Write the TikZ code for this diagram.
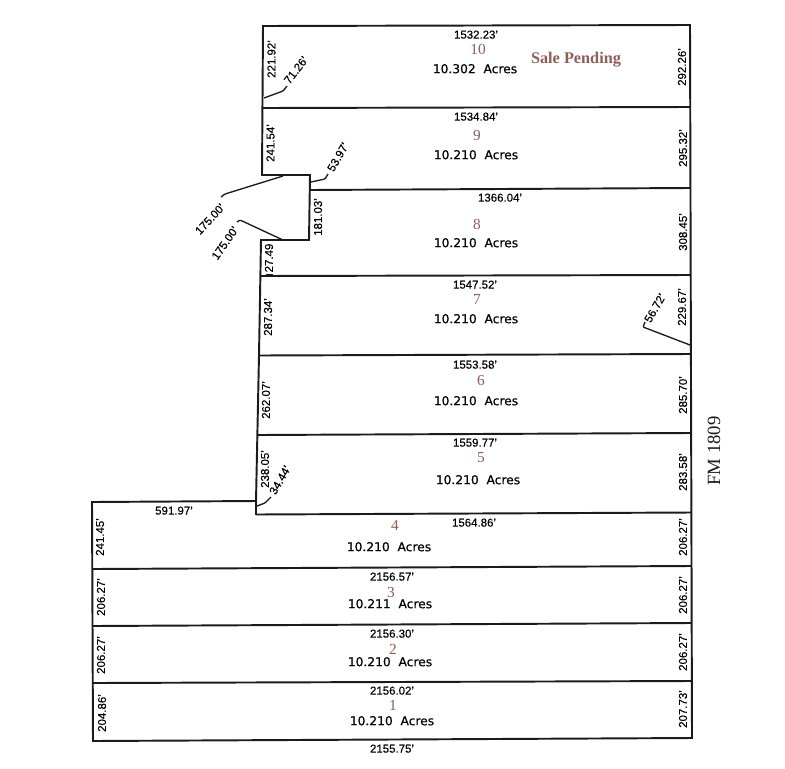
\documentclass[tikz,border=0pt]{standalone}
\usepackage{fontspec}
\setmainfont[FakeBold=0.25]{Liberation Sans}
\newfontfamily\serifbrown{Liberation Serif}
\newfontfamily\acrefont[FakeBold=0.5]{DejaVu Sans}
\definecolor{lotbrown}{HTML}{8E5F56}
\definecolor{linegray}{HTML}{1C1A1A}
\tikzset{
  lotline/.style={draw=linegray,line width=1.45pt,line join=miter},
  leader/.style={draw=linegray,line width=1pt,rounded corners=0.8pt},
  dimtext/.style={inner sep=0pt,font=\fontsize{8.6}{10}\selectfont,text=black},
  lotnum/.style={inner sep=0pt,font=\serifbrown\fontsize{11.5}{13}\selectfont,text=lotbrown},
  acres/.style={inner sep=0pt,yshift=0.2pt,font=\acrefont\fontsize{9.2}{11}\selectfont,text=black},
}
\begin{document}
\begin{tikzpicture}[x=0.75pt,y=-0.75pt]
\useasboundingbox[fill=white] (0,0) rectangle (785,768);
% outline
\draw[lotline] (263,26) -- (690,25) -- (692,738) -- (93,741) -- (92,502) -- (256,501)
  -- (259,355) -- (261,240) -- (309,240) -- (310,175) -- (262,175) -- cycle;
% lot lines
\draw[lotline] (263,108) -- (690,107);
\draw[lotline] (310,190) -- (690,188);
\draw[lotline] (261,276) -- (690,275);
\draw[lotline] (259,355.5) -- (690,354);
\draw[lotline] (257.5,435) -- (691,433);
\draw[lotline] (256,514.5) -- (691,512.5);
\draw[lotline] (256,501) -- (256,514.5);
\draw[lotline] (93,569) -- (691,566);
\draw[lotline] (93,626) -- (691,623);
\draw[lotline] (93,683) -- (691,681);
\draw[draw=linegray,line width=2pt] (266,275.5) -- (273,275.5);
% leaders
\draw[leader] (264,98) -- (283,91) -- (287,86);
\draw[leader] (311,182) -- (325,179) -- (328,174);
\draw[leader] (283,176) -- (225,194) -- (221,197);
\draw[leader] (283,240) -- (240,220) -- (237,222);
\draw[leader] (257,506) -- (265,503) -- (271,497);
\draw[leader] (690,345) -- (643,327) -- (645,322);
% rotated dimensions, left and middle
\node[dimtext,rotate=90] (d22192) at (271.5,59) {221.92'};
\node[dimtext,rotate=52] (d7126) at (296,70) {71.26'};
\node[dimtext,rotate=90] (d24154) at (270.5,143) {241.54'};
\node[dimtext,rotate=60] (d5397) at (338,157) {53.97'};
\node[dimtext,rotate=90] (d18103) at (318,217) {181.03'};
\node[dimtext,rotate=47] (d175a) at (210,219) {175.00'};
\node[dimtext,rotate=55] (d175b) at (225,243) {175.00'};
\node[dimtext,rotate=90] (d2749) at (269,258) {27.49};
\node[dimtext,rotate=90] (d28734) at (268,317) {287.34'};
\node[dimtext,rotate=90] (d26207) at (266,400) {262.07'};
\node[dimtext,rotate=90] (d23805) at (265,469) {238.05'};
\node[dimtext,rotate=60] (d3444) at (280,480) {34.44'};
\node[dimtext,yshift=-0.5pt] (d59197) at (174,510) {591.97'};
\node[dimtext,rotate=90] (d24145) at (100,537) {241.45'};
\node[dimtext,rotate=90] (l3) at (101,597) {206.27'};
\node[dimtext,rotate=90] (l2) at (101,655) {206.27'};
\node[dimtext,rotate=90] (l1) at (102,713) {204.86'};
% right
\node[dimtext,rotate=90] (r10) at (682,67) {292.26'};
\node[dimtext,rotate=90] (r9) at (683,148) {295.32'};
\node[dimtext,rotate=90] (r8) at (683,232) {308.45'};
\node[dimtext,rotate=90] (r7) at (682,307) {229.67'};
\node[dimtext,rotate=60] (d5672) at (655,308) {56.72'};
\node[dimtext,rotate=90] (r6) at (683,395) {285.70'};
\node[dimtext,rotate=90] (r5) at (683,472) {283.58'};
\node[dimtext,rotate=90] (r4) at (683,537) {206.27'};
\node[dimtext,rotate=90] (r3) at (683,595) {206.27'};
\node[dimtext,rotate=90] (r2) at (683,652) {206.27'};
\node[dimtext,rotate=90] (r1) at (683,709) {207.73'};
% widths
\node[dimtext,yshift=-0.5pt] (w10) at (476,34) {1532.23'};
\node[dimtext,yshift=-0.5pt] (w9) at (476,116) {1534.84'};
\node[dimtext,yshift=-0.5pt] (w8) at (500,197) {1366.04'};
\node[dimtext,yshift=-0.5pt] (w7) at (475,284) {1547.52'};
\node[dimtext,yshift=-0.5pt] (w6) at (475,364) {1553.58'};
\node[dimtext,yshift=-0.5pt] (w5) at (475,442) {1559.77'};
\node[dimtext,yshift=-0.5pt] (w4) at (474,522) {1564.86'};
\node[dimtext,yshift=-0.5pt] (w3) at (392,576) {2156.57'};
\node[dimtext,yshift=-0.5pt] (w2) at (392,633) {2156.30'};
\node[dimtext,yshift=-0.5pt] (w1) at (392,690) {2156.02'};
\node[dimtext,yshift=-0.5pt] (w0) at (392,748) {2155.75'};
% lot numbers
\node[lotnum] (n10) at (478,49) {10};
\node[lotnum] (n9) at (477,135) {9};
\node[lotnum] (n8) at (477,224) {8};
\node[lotnum] (n7) at (477,299) {7};
\node[lotnum] (n6) at (481,380) {6};
\node[lotnum] (n5) at (481,458) {5};
\node[lotnum] (n4) at (395,525) {4};
\node[lotnum] (n3) at (391,592) {3};
\node[lotnum] (n2) at (393,649) {2};
\node[lotnum] (n1) at (393,705) {1};
% acreage
\node[acres] (a10) at (475,69) {10.302\ \ Acres};
\node[acres] (a9) at (476,155) {10.210\ \ Acres};
\node[acres] (a8) at (476,243) {10.210\ \ Acres};
\node[acres] (a7) at (476,319) {10.210\ \ Acres};
\node[acres] (a6) at (476,401) {10.210\ \ Acres};
\node[acres] (a5) at (478,480) {10.210\ \ Acres};
\node[acres] (a4) at (389,547) {10.210\ \ Acres};
\node[acres] (a3) at (390,604) {10.211\ \ Acres};
\node[acres] (a2) at (390,662) {10.210\ \ Acres};
\node[acres] (a1) at (392,721) {10.210\ \ Acres};
% notes
\node[inner sep=0pt,font=\serifbrown\bfseries\fontsize{12.2}{14}\selectfont,text=lotbrown] (sale) at (576,60) {Sale Pending};
\node[inner sep=0pt,rotate=90,font=\serifbrown\fontsize{14}{16}\selectfont,text=linegray] (fm) at (714,451) {FM 1809};
\end{tikzpicture}
\end{document}
